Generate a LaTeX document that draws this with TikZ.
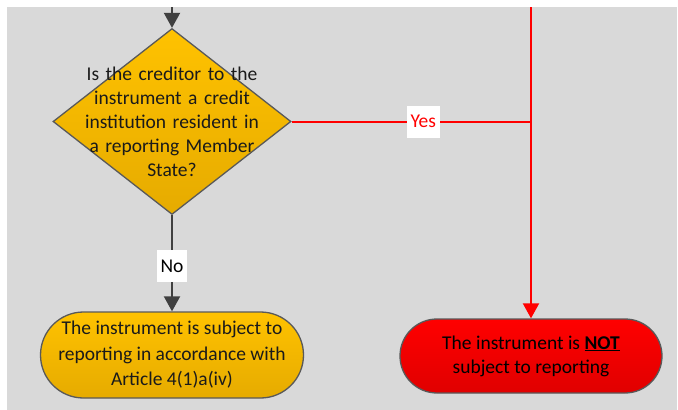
\documentclass[tikz,border=0pt]{standalone}
\usepackage{fontspec}
\setmainfont{Carlito}
\usetikzlibrary{shapes.geometric,arrows.meta}
\definecolor{bggray}{HTML}{D9D9D9}
\definecolor{goldtop}{HTML}{FFC200}
\definecolor{goldbot}{HTML}{E6AB00}
\definecolor{redtop}{HTML}{FF0000}
\definecolor{redbot}{HTML}{E00000}
\definecolor{edgegray}{HTML}{595959}
\definecolor{arrowgray}{HTML}{404040}
\definecolor{txtdark}{HTML}{1A1A1A}
\tikzset{
  txt/.style={font=\fontsize{19.5}{24}\selectfont},
  decision/.style={diamond, draw=edgegray, line width=1.3pt, top color=goldtop, bottom color=goldbot,
    minimum width=238pt, minimum height=186pt, inner sep=0pt, aspect=1.28},
  qtext/.style={txt, text=txtdark, align=center, text width=180pt, inner sep=0pt},
  goldend/.style={rectangle, rounded corners=43pt, draw=edgegray, line width=1.3pt,
    top color=goldtop, bottom color=goldbot, minimum width=263pt, minimum height=86pt,
    txt, text=txtdark, align=center, font=\fontsize{19.5}{25.5}\selectfont},
  redend/.style={rectangle, rounded corners=37pt, draw=edgegray, line width=1.3pt,
    top color=redtop, bottom color=redbot, minimum width=262pt, minimum height=74pt,
    txt, text=black, align=center},
  darkarrow/.style={draw=arrowgray, line width=2pt, -{Triangle[width=16pt,length=15pt]}},
  redline/.style={draw=red, line width=2pt},
  redarrow/.style={redline, -{Triangle[width=16pt,length=15pt]}},
  lbl/.style={txt, fill=white, inner xsep=4pt, inner ysep=0pt, minimum height=32pt}
}
\begin{document}
\begin{tikzpicture}[x=1pt,y=-1pt]
\useasboundingbox (0,0) rectangle (678,410);
\fill[bggray] (7,7) rectangle (677,410);

\node[decision] (q) at (172,121.5) {};
\node[qtext] (qt) at (172,122) {Is the creditor to the\\instrument a credit\\institution resident in\\a reporting Member\\State?};

\node[goldend] (g) at (172,355) {The instrument is subject to\\reporting in accordance with\\Article 4(1)a(iv)};
\node[redend] (r) at (531,356) {The instrument is \underline{\textbf{NOT}}\\subject to reporting};

\coordinate (qin) at (172,7);
\coordinate (rin) at (531,7);
\coordinate (j) at (531,121.5);

\draw[darkarrow] (qin) -- (q.north);
\draw[darkarrow] (q.south) -- node[lbl, text=black, pos=0.53] (no) {No} (g.north);
\draw[redline] (q.east) -- node[lbl, text=red, pos=0.55] (yes) {Yes} (j);
\draw[redarrow] (rin) -- (r.north);
\end{tikzpicture}
\end{document}
